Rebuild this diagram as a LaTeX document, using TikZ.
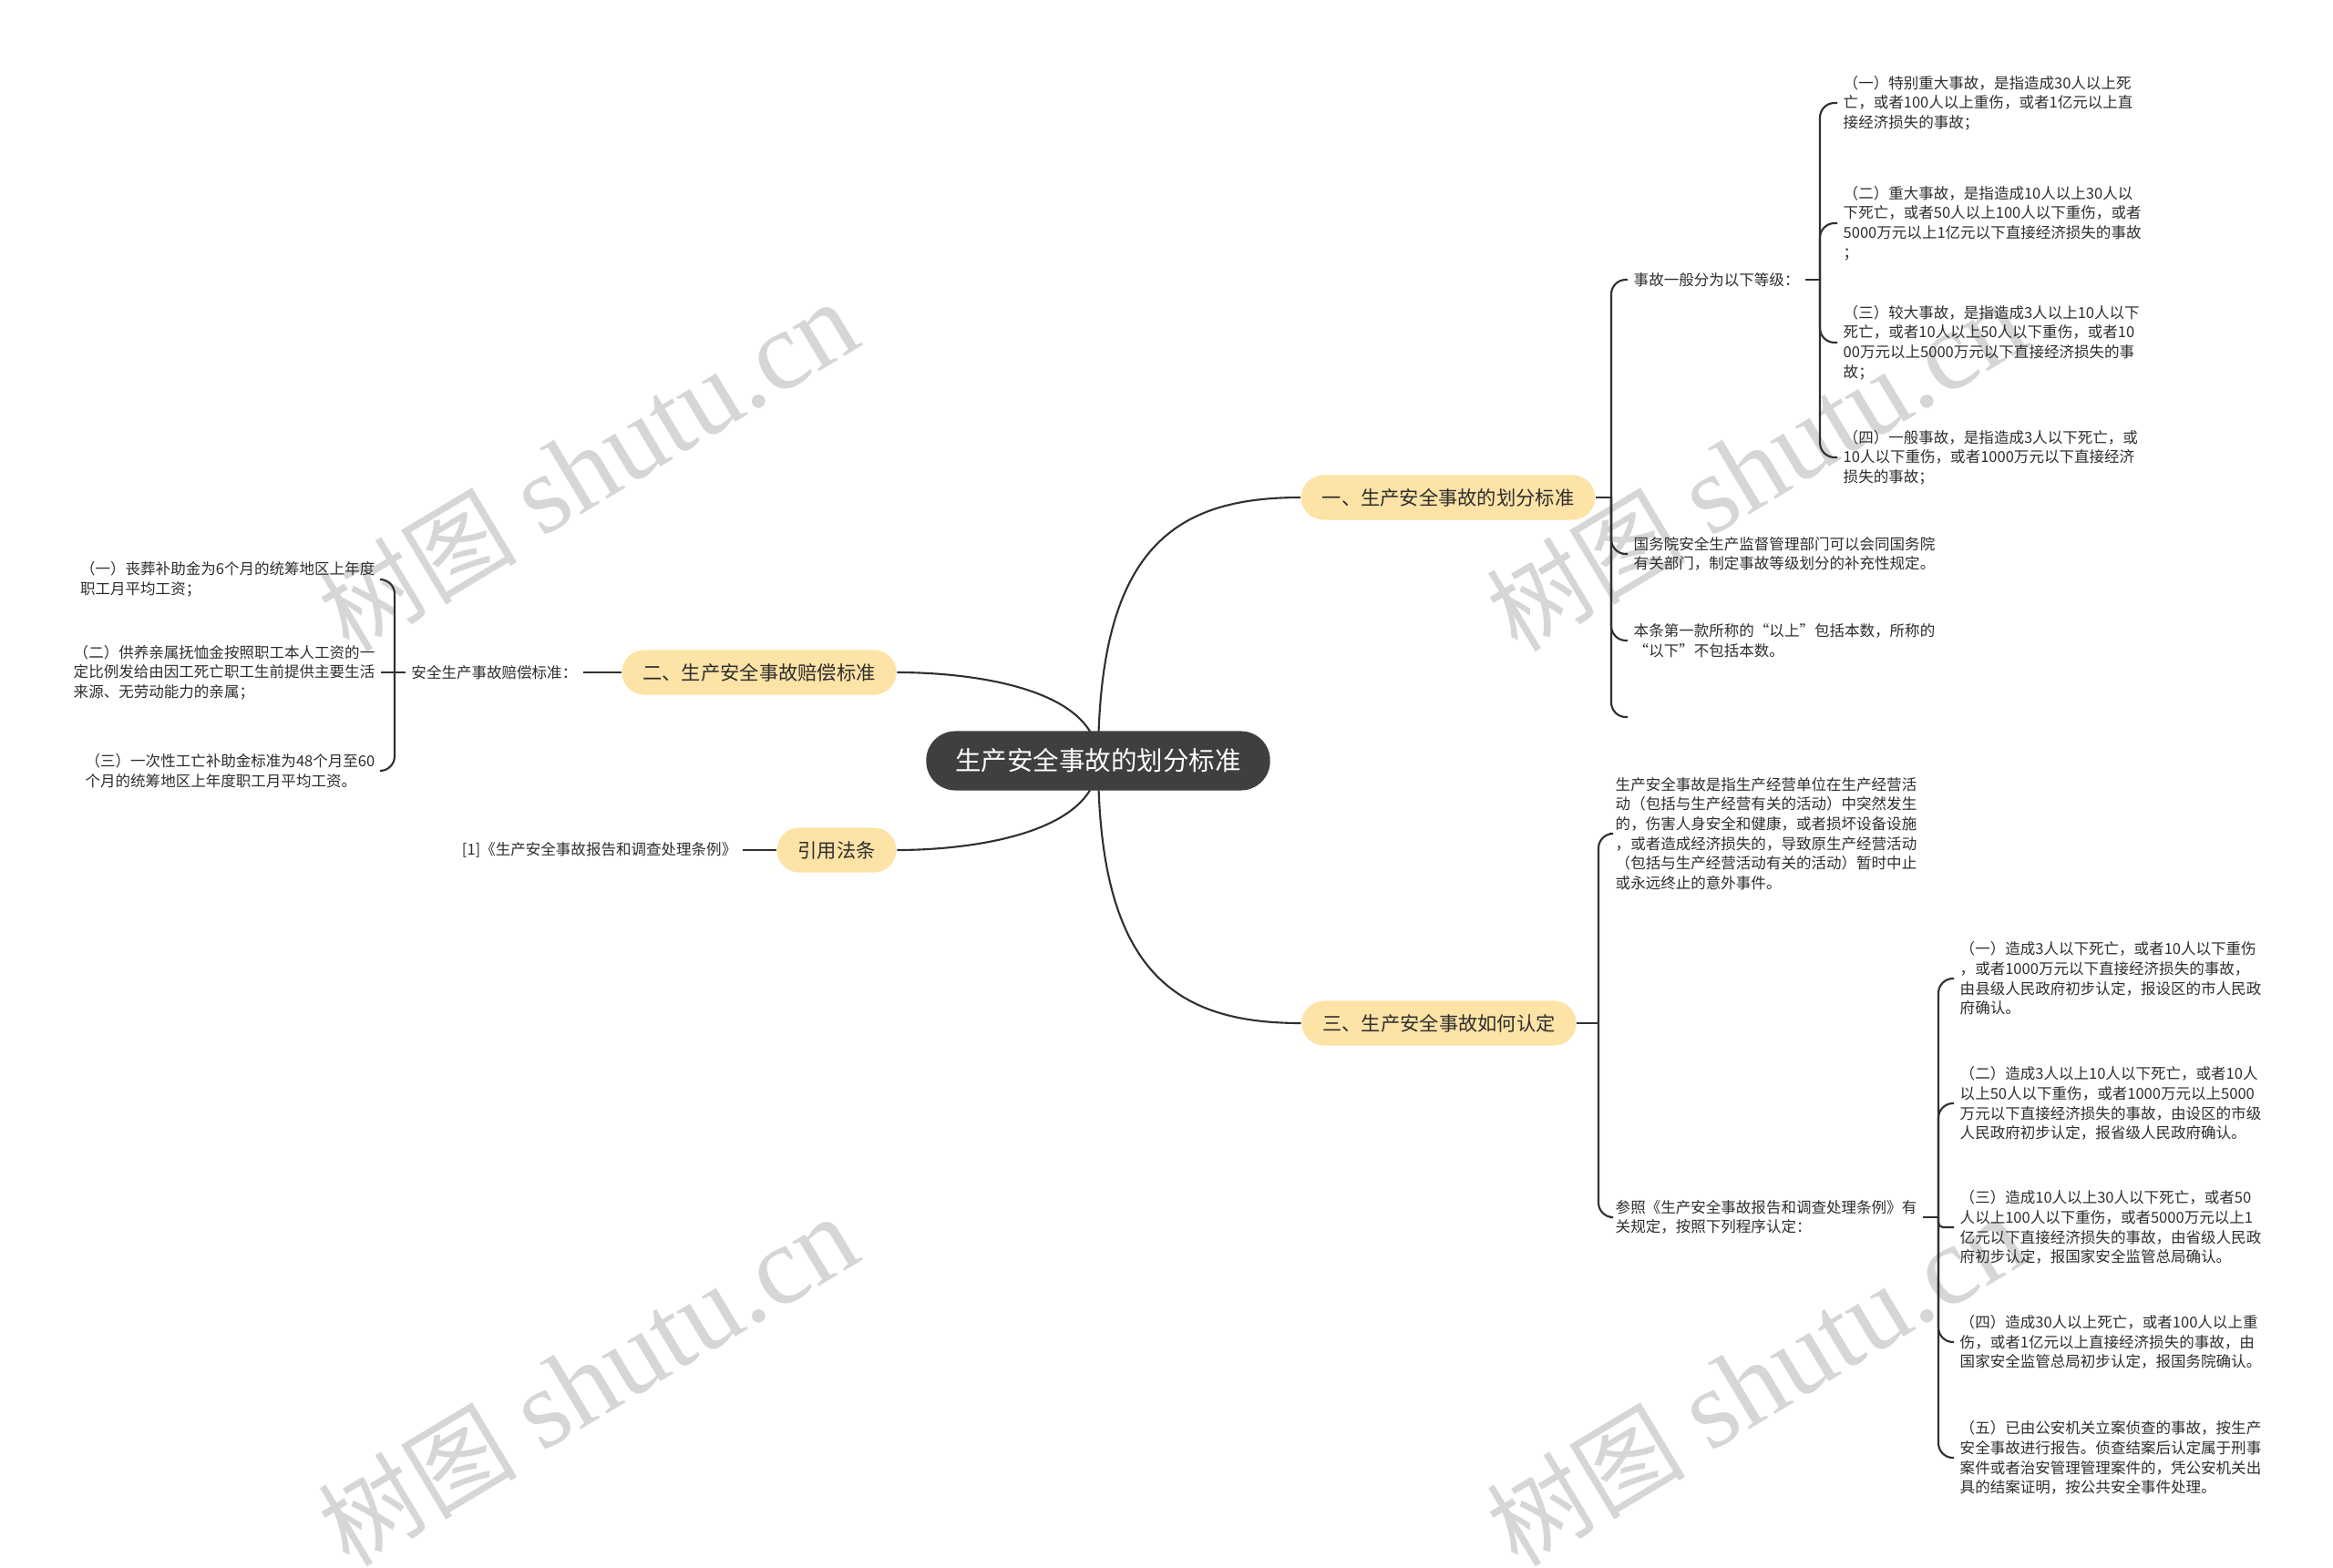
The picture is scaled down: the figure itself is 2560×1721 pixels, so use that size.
\documentclass[tikz,border=0pt]{standalone}
\usepackage{fontspec}
\setmainfont{Noto Sans CJK SC}
\newfontfamily\wmlatin{Liberation Serif}
\usetikzlibrary{backgrounds}

\definecolor{rootgray}{HTML}{3F3F3F}
\definecolor{branchfill}{HTML}{FDE3A6}
\definecolor{linkgray}{HTML}{303030}
\definecolor{wmgray}{HTML}{D6D6D6}

\begin{document}
\begin{tikzpicture}[
    x=0.01cm, y=-0.01cm,
    rootbox/.style   = {rounded corners=0.32cm, fill=rootgray, text=white,
                        minimum height=0.65cm, inner xsep=0.32cm, inner ysep=0pt,
                        font=\fontsize{8.1pt}{9pt}\selectfont},
    branchbox/.style = {rounded corners=0.245cm, fill=branchfill, text=black!82,
                        minimum height=0.49cm, inner xsep=0.23cm, inner ysep=0pt,
                        font=\fontsize{6.05pt}{7pt}\selectfont},
    leaf/.style      = {align=left, inner xsep=0.06cm, inner ysep=0pt, text=black!82,
                        font=\fontsize{4.7pt}{6.15pt}\selectfont},
    link/.style      = {draw=linkgray, line width=0.6pt},
    hook/.style      = {link, rounded corners=0.16cm},
    wmtext/.style    = {text=wmgray, rotate=31, inner sep=0pt,
                        font=\fontsize{35pt}{37pt}\selectfont},
]

% ============================================================
%  PAGE + WATERMARKS
% ============================================================
\useasboundingbox (0,0) rectangle (2560,1721);
\begin{pgfonlayer}{background}
  \fill[white] (0,0) rectangle (2560,1721);
  \foreach \wx/\wy [count=\i] in {645/512, 1927/512, 645/1516, 1927/1516}
    \node[wmtext] (wm\i) at (\wx,\wy)
      {{\fontsize{31pt}{33pt}\selectfont 树图} {\wmlatin shutu.cn}};
\end{pgfonlayer}

% ============================================================
%  ROOT AND BRANCHES
% ============================================================
\node[rootbox]   (root)  at (1205,835) {生产安全事故的划分标准};
\node[branchbox] (std)   at (1589,546) {一、生产安全事故的划分标准};
\node[branchbox] (comp)  at (833,738)  {二、生产安全事故赔偿标准};
\node[branchbox] (law)   at (918,933)  {引用法条};
\node[branchbox] (ident) at (1579,1123) {三、生产安全事故如何认定};

% ----------------------------------------------------------
%  一、划分标准  (right, top)
% ----------------------------------------------------------
\coordinate (stdJ)  at (1768,546);
\node[leaf, anchor=west] (std1) at (1786,307) {事故一般分为以下等级：};
\coordinate (std1J) at (1997,307);
\node[leaf, anchor=west] (std11) at (2016,113)
  {（一）特别重大事故，是指造成30人以上死\\亡，或者100人以上重伤，或者1亿元以上直\\接经济损失的事故；};
\node[leaf, anchor=west] (std12) at (2016,245)
  {（二）重大事故，是指造成10人以上30人以\\下死亡，或者50人以上100人以下重伤，或者\\5000万元以上1亿元以下直接经济损失的事故\\；};
\node[leaf, anchor=west] (std13) at (2016,376)
  {（三）较大事故，是指造成3人以上10人以下\\死亡，或者10人以上50人以下重伤，或者10\\00万元以上5000万元以下直接经济损失的事\\故；};
\node[leaf, anchor=west] (std14) at (2016,502)
  {（四）一般事故，是指造成3人以下死亡，或\\10人以下重伤，或者1000万元以下直接经济\\损失的事故；};
\node[leaf, anchor=west] (std2) at (1786,608)
  {国务院安全生产监督管理部门可以会同国务院\\有关部门，制定事故等级划分的补充性规定。};
\node[leaf, anchor=west] (std3) at (1786,703)
  {本条第一款所称的“以上”包括本数，所称的\\“以下”不包括本数。};
\coordinate (std4) at (1786,787);

% ----------------------------------------------------------
%  二、赔偿标准  (left)
% ----------------------------------------------------------
\node[leaf, anchor=east] (comp1) at (640,738) {安全生产事故赔偿标准：};
\coordinate (compJ) at (433,738);
\node[leaf, anchor=east] (comp11) at (418,636)
  {（一）丧葬补助金为6个月的统筹地区上年度\\职工月平均工资；};
\node[leaf, anchor=east] (comp12) at (418,738)
  {（二）供养亲属抚恤金按照职工本人工资的一\\定比例发给由因工死亡职工生前提供主要生活\\来源、无劳动能力的亲属；};
\node[leaf, anchor=east] (comp13) at (418,846)
  {（三）一次性工亡补助金标准为48个月至60\\个月的统筹地区上年度职工月平均工资。};

% ----------------------------------------------------------
%  引用法条  (left)
% ----------------------------------------------------------
\node[leaf, anchor=east] (law1) at (815,933) {[1]《生产安全事故报告和调查处理条例》};

% ----------------------------------------------------------
%  三、如何认定  (right, bottom)
% ----------------------------------------------------------
\coordinate (identJ) at (1754,1123);
\node[leaf, anchor=west] (ident1) at (1766,915)
  {生产安全事故是指生产经营单位在生产经营活\\动（包括与生产经营有关的活动）中突然发生\\的，伤害人身安全和健康，或者损坏设备设施\\，或者造成经济损失的，导致原生产经营活动\\（包括与生产经营活动有关的活动）暂时中止\\或永远终止的意外事件。};
\node[leaf, anchor=west] (ident2) at (1766,1336)
  {参照《生产安全事故报告和调查处理条例》有\\关规定，按照下列程序认定：};
\coordinate (ident2J) at (2127,1336);
\node[leaf, anchor=west] (ident21) at (2144,1074)
  {（一）造成3人以下死亡，或者10人以下重伤\\，或者1000万元以下直接经济损失的事故，\\由县级人民政府初步认定，报设区的市人民政\\府确认。};
\node[leaf, anchor=west] (ident22) at (2144,1211)
  {（二）造成3人以上10人以下死亡，或者10人\\以上50人以下重伤，或者1000万元以上5000\\万元以下直接经济损失的事故，由设区的市级\\人民政府初步认定，报省级人民政府确认。};
\node[leaf, anchor=west] (ident23) at (2144,1347)
  {（三）造成10人以上30人以下死亡，或者50\\人以上100人以下重伤，或者5000万元以上1\\亿元以下直接经济损失的事故，由省级人民政\\府初步认定，报国家安全监管总局确认。};
\node[leaf, anchor=west] (ident24) at (2144,1473)
  {（四）造成30人以上死亡，或者100人以上重\\伤，或者1亿元以上直接经济损失的事故，由\\国家安全监管总局初步认定，报国务院确认。};
\node[leaf, anchor=west] (ident25) at (2144,1600)
  {（五）已由公安机关立案侦查的事故，按生产\\安全事故进行报告。侦查结案后认定属于刑事\\案件或者治安管理管理案件的，凭公安机关出\\具的结案证明，按公共安全事件处理。};

% ============================================================
%  CONNECTORS
% ============================================================
\begin{scope}[on background layer]
  % root to branches
  \draw[link] (root.center) to[out=90, in=180, out distance=2.35cm, in distance=1.37cm] (std.west);
  \draw[link] (root.center) to[out=-90, in=180, out distance=2.33cm, in distance=1.37cm] (ident.west);
  \draw[link] (root.center) to[out=90, in=0, out distance=0.79cm, in distance=0.84cm] (comp.east);
  \draw[link] (root.center) to[out=-90, in=0, out distance=0.79cm, in distance=0.84cm] (law.east);

  % 一
  \draw[link] (std.east) -- (stdJ);
  \foreach \c in {std1,std2,std3}
    \draw[hook] (stdJ) |- (\c.west);
  \draw[hook] (stdJ) |- (std4);
  \draw[link] (std1.east) -- (std1J);
  \foreach \c in {std11,std12,std13,std14}
    \draw[hook] (std1J) |- (\c.west);

  % 二
  \draw[link] (comp.west) -- (comp1.east);
  \draw[link] (comp1.west) -- (compJ);
  \draw[hook] (compJ) |- (comp11.east);
  \draw[link] (compJ) -- (comp12.east);
  \draw[hook] (compJ) |- (comp13.east);

  % 引用法条
  \draw[link] (law.west) -- (law1.east);

  % 三
  \draw[link] (ident.east) -- (identJ);
  \foreach \c in {ident1,ident2}
    \draw[hook] (identJ) |- (\c.west);
  \draw[link] (ident2.east) -- (ident2J);
  \foreach \c in {ident21,ident22,ident24,ident25}
    \draw[hook] (ident2J) |- (\c.west);
  \draw[link, rounded corners=0.05cm] (ident2J) |- (ident23.west);
\end{scope}

\end{tikzpicture}
\end{document}
